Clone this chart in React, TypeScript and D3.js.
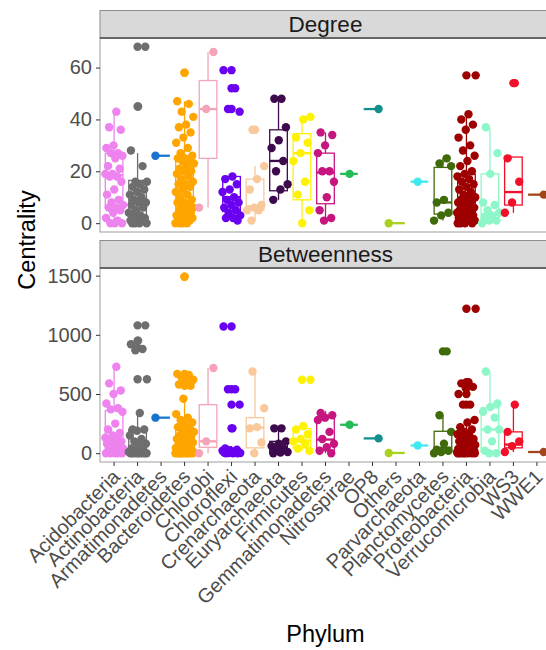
import React, { useEffect, useRef } from "react";
import * as d3 from "d3";

const phyla = [
  "Acidobacteria", "Actinobacteria", "Armatimonadetes", "Bacteroidetes", "Chlorobi",
  "Chloroflexi", "Crenarchaeota", "Euryarchaeota", "Firmicutes", "Gemmatimonadetes",
  "Nitrospirae", "OP8", "Others", "Parvarchaeota", "Planctomycetes",
  "Proteobacteria", "Verrucomicrobia", "WS3", "WWE1",
];

const phylumColors = [
  "#EE82EE", "#6E6E6E", "#1874CD", "#FFA500", "#F4A3B8",
  "#6A00F0", "#F9C89B", "#3D0B4D", "#FFF200", "#C7157F",
  "#22BB55", "#13908E", "#A8D21E", "#40E8F0", "#3F6B0A",
  "#9E0000", "#8DF7C9", "#F0102A", "#A0461A",
];

// Degree: node values, box stats [lower whisker, q1, median, q3, upper whisker], outliers
const degreePoints = [
  [43, 37, 36, 30, 29, 27, 27, 26, 25, 22, 21, 19, 19, 18, 18, 16, 13, 11, 9, 8, 7, 6, 6, 5, 4, 2, 1, 0, 0, 0],
  [68, 45, 28, 22, 16, 16, 15, 14, 13, 12, 11, 10, 9, 8, 8, 7, 6, 5, 4, 3, 3, 2, 2, 1, 1, 0, 0, 0, 0],
  [26],
  [58, 47, 46, 43, 41, 38, 37, 35, 33, 31, 29, 27, 26, 25, 25, 24, 24, 23, 22, 21, 20, 20, 19, 18, 17, 16, 15, 15,
    14, 13, 12, 11, 10, 9, 8, 8, 7, 6, 6, 5, 5, 4, 4, 3, 3, 2, 2, 1, 1, 1, 0, 0, 0, 0],
  [66, 44, 6],
  [59, 52, 44, 43, 18, 17, 15, 13, 12, 10, 9, 8, 7, 6, 5, 4, 3, 2, 2, 1],
  [36, 22, 17, 13, 7, 6, 5, 5, 1],
  [48, 48, 37, 32, 29, 24, 20, 15, 13, 9],
  [41, 40, 33, 31, 27, 24, 16, 11, 5, 0],
  [35, 34, 30, 27, 20, 20, 16, 10, 5, 2, 1],
  [19],
  [44],
  [0],
  [16],
  [25, 23, 22, 9, 8, 4, 3, 1],
  [57, 42, 40, 38, 36, 33, 30, 28, 26, 24, 22, 20, 19, 18, 17, 16, 15, 14, 13, 12, 11, 10, 10, 9, 9, 8, 8, 7, 7,
    6, 6, 5, 5, 4, 4, 3, 3, 3, 2, 2, 2, 1, 1, 1, 0, 0, 0, 0],
  [37, 27, 19, 8, 7, 5, 4, 3, 2, 1, 1, 0],
  [54, 25, 16, 8, 4],
  [11],
];
const degreeBoxes = [
  [0, 6, 18.5, 27, 43], [0, 3, 9, 16.5, 27], [26, 26, 26, 26, 26], [0, 4, 14, 25, 47], [6, 25, 44, 55, 66],
  [1, 4.5, 10, 18, 18], [1, 5, 6.5, 17, 22], [9, 12.5, 24, 36, 48], [0, 9, 27, 34.5, 41], [1, 7.5, 19.5, 27, 35],
  [19, 19, 19, 19, 19], [44, 44, 44, 44, 44], [0, 0, 0, 0, 0], [16, 16, 16, 16, 16], [1, 3.5, 8, 21.5, 25],
  [0, 2, 7, 19, 42], [0, 1, 3.5, 19, 37], [4, 7, 12, 25.5, 25.5], [11, 11, 11, 11, 11],
];
const degreeOutliers = [
  [], [68, 45], [], [58], [], [59, 52, 44], [36], [], [], [], [], [], [], [], [], [57], [], [54], [],
];
const degreeTicks = [0, 20, 40, 60];

// Betweenness
const betweennessPoints = [
  [730, 590, 530, 500, 420, 380, 370, 350, 250, 200, 170, 150, 130, 120, 110, 100, 90, 80, 60, 50, 40, 30, 20, 10, 5, 0, 0, 0, 0, 0],
  [1080, 950, 920, 880, 870, 625, 340, 200, 200, 190, 150, 120, 100, 80, 60, 40, 30, 20, 10, 10, 5, 0, 0, 0, 0, 0, 0, 0, 0],
  [300],
  [1490, 670, 660, 640, 620, 600, 580, 570, 460, 330, 300, 280, 260, 240, 220, 200, 190, 180, 160, 150, 140, 130, 120,
    110, 100, 90, 80, 70, 60, 50, 45, 40, 35, 30, 25, 20, 15, 10, 8, 6, 5, 4, 3, 2, 1, 0, 0, 0, 0, 0, 0, 0, 0, 0],
  [720, 100, 0],
  [1070, 540, 540, 410, 210, 40, 30, 25, 20, 15, 12, 10, 8, 5, 3, 2, 1, 0, 0, 0],
  [690, 380, 220, 210, 90, 0],
  [210, 210, 100, 80, 60, 40, 20, 10, 5, 0],
  [620, 230, 200, 160, 120, 100, 80, 40, 20],
  [340, 320, 300, 280, 180, 120, 80, 50, 20, 0],
  [240],
  [125],
  [2],
  [65],
  [860, 320, 180, 80, 30, 20, 10, 0],
  [1220, 600, 590, 560, 550, 500, 410, 410, 280, 260, 220, 200, 180, 160, 150, 130, 120, 110, 100, 90, 80, 70, 60,
    50, 45, 40, 35, 30, 25, 20, 18, 15, 12, 10, 8, 6, 5, 4, 3, 2, 1, 0, 0, 0, 0, 0, 0, 0],
  [690, 420, 390, 350, 300, 200, 200, 100, 20, 0, 0],
  [410, 180, 100, 60, 10],
  [10],
];
const betweennessBoxes = [
  [0, 15, 110, 360, 730], [0, 2, 30, 200, 340], [300, 300, 300, 300, 300], [0, 2, 40, 220, 460], [0, 50, 100, 410, 720],
  [0, 2, 12, 30, 60], [0, 45, 215, 300, 690], [0, 8, 50, 100, 210], [20, 45, 107, 208, 236], [0, 22, 115, 304, 355],
  [240, 240, 240, 240, 240], [125, 125, 125, 125, 125], [2, 2, 2, 2, 2], [65, 65, 65, 65, 65], [0, 15, 45, 185, 320],
  [0, 5, 40, 124, 280], [0, 10, 200, 383, 690], [10, 45, 73, 180, 410], [10, 10, 10, 10, 10],
];
const betweennessOutliers = [
  [], [1080, 950, 890, 625], [], [1490, 670, 660, 640, 600, 580, 570], [], [1070, 540, 410, 210], [], [], [620], [],
  [], [], [], [], [860], [1220, 600, 590, 560, 550, 500, 410], [], [], [],
];
const betweennessTicks = [0, 500, 1000, 1500];

const FONT = "'Liberation Sans', Arial, sans-serif";

function jitter(i: number, g: number) {
  const u = ((i + 1) * 0.6180339887 + g * 0.2915) % 1;
  return u - 0.5;
}

export default function App() {
  const ref = useRef<SVGSVGElement>(null);

  useEffect(() => {
    const svg = d3.select(ref.current);
    svg.selectAll("*").remove();

    const left = 100, right = 551;
    const x = d3.scalePoint<string>().domain(phyla).range([left, right]).padding(0.6);
    const step = x.step();
    const boxW = step * 0.75;

    const panels = [
      { title: "Degree", strip: 10.5, top: 38, bottom: 232, points: degreePoints, boxes: degreeBoxes, outliers: degreeOutliers, ticks: degreeTicks },
      { title: "Betweenness", strip: 240.5, top: 268, bottom: 462, points: betweennessPoints, boxes: betweennessBoxes, outliers: betweennessOutliers, ticks: betweennessTicks },
    ];

    panels.forEach((p) => {
      const [mn, mx] = d3.extent(p.points.flat()) as [number, number];
      const pad = (mx - mn) * 0.05;
      const y = d3.scaleLinear().domain([mn - pad, mx + pad]).range([p.bottom, p.top]);
      const g = svg.append("g");

      g.append("rect").attr("x", left).attr("y", p.top).attr("width", right - left).attr("height", p.bottom - p.top)
        .attr("fill", "white").attr("stroke", "#a6a6a6").attr("stroke-width", 1.1);

      g.append("rect").attr("x", left).attr("y", p.strip).attr("width", right - left).attr("height", p.top - p.strip)
        .attr("fill", "#d9d9d9").attr("stroke", "#8c8c8c").attr("stroke-width", 1);
      g.append("line").attr("x1", left).attr("x2", right).attr("y1", p.top).attr("y2", p.top)
        .attr("stroke", "#4d4d4d").attr("stroke-width", 1.6);
      g.append("text").attr("x", (left + right) / 2).attr("y", (p.strip + p.top) / 2).attr("dy", "0.36em")
        .attr("text-anchor", "middle").attr("font-family", FONT).attr("font-size", 22.5).attr("fill", "#1a1a1a")
        .text(p.title);

      // boxplot layer
      const boxes = g.append("g");
      phyla.forEach((name, gi) => {
        const [lo, q1, med, q3, hi] = p.boxes[gi];
        const cx = x(name)!;
        const c = phylumColors[gi];
        boxes.append("line").attr("x1", cx).attr("x2", cx).attr("y1", y(q3)).attr("y2", y(hi)).attr("stroke", c).attr("stroke-width", 1.3);
        boxes.append("line").attr("x1", cx).attr("x2", cx).attr("y1", y(q1)).attr("y2", y(lo)).attr("stroke", c).attr("stroke-width", 1.3);
        boxes.append("rect").attr("x", cx - boxW / 2).attr("y", y(q3)).attr("width", boxW).attr("height", Math.max(0, y(q1) - y(q3)))
          .attr("fill", "white").attr("stroke", c).attr("stroke-width", 1.3);
        boxes.append("line").attr("x1", cx - boxW / 2).attr("x2", cx + boxW / 2).attr("y1", y(med)).attr("y2", y(med))
          .attr("stroke", c).attr("stroke-width", 2.3);
        boxes.selectAll(null).data(p.outliers[gi]).join("circle")
          .attr("cx", cx).attr("cy", (d) => y(d)).attr("r", 4.2).attr("fill", c);
      });

      // jittered points layer
      const pts = g.append("g");
      phyla.forEach((name, gi) => {
        const cx = x(name)!;
        pts.selectAll(null).data(p.points[gi]).join("circle")
          .attr("cx", (d, i) => cx + jitter(i, gi) * 0.8 * step)
          .attr("cy", (d) => y(d)).attr("r", 4.2).attr("fill", phylumColors[gi]);
      });

      const yAxis = g.append("g").attr("transform", `translate(${left},0)`)
        .call(d3.axisLeft(y).tickValues(p.ticks).tickFormat(d3.format("d")).tickSize(4).tickPadding(4));
      yAxis.select(".domain").remove();
      yAxis.selectAll("line").attr("stroke", "#333333");
      yAxis.selectAll("text").attr("font-family", FONT).attr("font-size", 20).attr("fill", "#4d4d4d");
    });

    // x axis below the lower panel
    const xa = svg.append("g");
    xa.selectAll("line").data(phyla).join("line")
      .attr("x1", (d) => x(d)!).attr("x2", (d) => x(d)!).attr("y1", 462).attr("y2", 466)
      .attr("stroke", "#333333");
    xa.selectAll("text").data(phyla).join("text")
      .attr("transform", (d) => `translate(${x(d)! - 3},468) rotate(-45)`)
      .attr("dy", "0.71em").attr("text-anchor", "end")
      .attr("font-family", FONT).attr("font-size", 20).attr("fill", "#4d4d4d")
      .text((d) => d);

    svg.append("text").attr("x", (left + right) / 2).attr("y", 642).attr("text-anchor", "middle")
      .attr("font-family", FONT).attr("font-size", 23.5).attr("fill", "black").text("Phylum");
    svg.append("text").attr("transform", `translate(35,240) rotate(-90)`).attr("text-anchor", "middle")
      .attr("font-family", FONT).attr("font-size", 23.5).attr("fill", "black").text("Centrality");
  }, []);

  return <svg ref={ref} width={546} height={650} style={{ position: "absolute", left: 0, top: 0 }} />;
}
